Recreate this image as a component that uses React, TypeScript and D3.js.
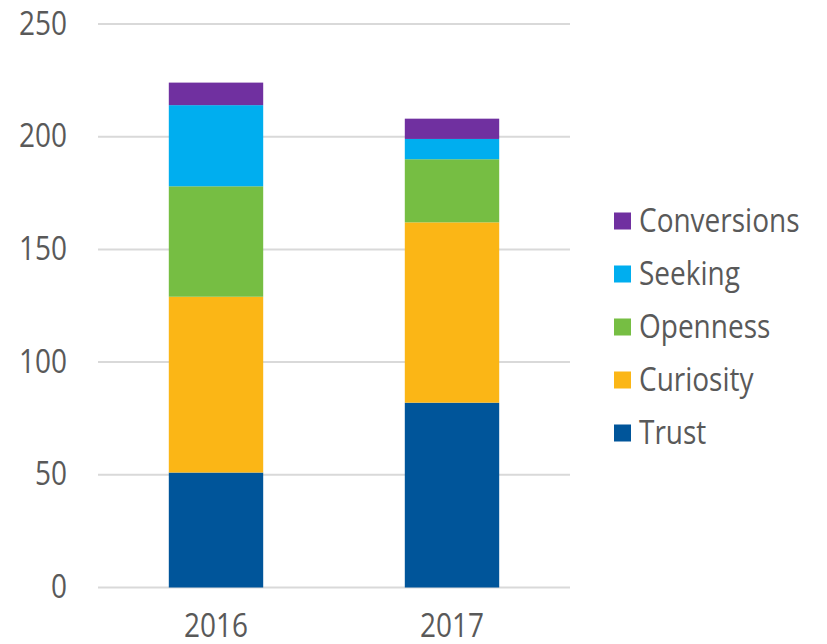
import React from "react";
import * as d3 from "d3";

const categories = ["2016", "2017"];
const seriesNames = ["Trust", "Curiosity", "Openness", "Seeking", "Conversions"];
const trust = [51, 82];
const curiosity = [78, 80];
const openness = [49, 28];
const seeking = [36, 9];
const conversions = [10, 9];
const colors = ["#00559A", "#FBB616", "#76BE43", "#00AEEF", "#7030A0"];
const yTicks = [0, 50, 100, 150, 200, 250];

const W = 827;
const H = 644;
const FONT = "'Open Sans', sans-serif";
const TEXT = "#595959";
const FS = 28;
const SY = 1.15;

function T({ x, y, anchor = "start", children }: any) {
  return (
    <text
      transform={`translate(${x},${y}) scale(1,${SY})`}
      textAnchor={anchor}
      fontFamily={FONT}
      fontSize={FS}
      fill={TEXT}
    >
      {children}
    </text>
  );
}

export default function App() {
  const values = [trust, curiosity, openness, seeking, conversions];
  const rows = categories.map((c, i) => {
    const r: any = { cat: c };
    seriesNames.forEach((s, k) => (r[s] = values[k][i]));
    return r;
  });
  const stacked = d3.stack().keys(seriesNames)(rows);
  const x = d3.scaleBand().domain(categories).range([98, 570]).paddingInner(0.6).paddingOuter(0.3);
  const y = d3.scaleLinear().domain([0, 250]).range([587.5, 24]);

  return (
    <svg width={W} height={H} style={{ position: "absolute", left: 0, top: 0, background: "#fff" }}>
      {yTicks.map((t) => (
        <g key={t}>
          <line x1={98} x2={570} y1={y(t)} y2={y(t)} stroke="#D9D9D9" strokeWidth={2} />
          <T x={67} y={y(t) + 10.5} anchor="end">
            {t}
          </T>
        </g>
      ))}
      {stacked.map((layer, k) => (
        <g key={layer.key} fill={colors[k]}>
          {layer.map((d: any, i: number) => (
            <rect
              key={i}
              x={x(categories[i])}
              width={x.bandwidth()}
              y={y(d[1])}
              height={y(d[0]) - y(d[1])}
            />
          ))}
        </g>
      ))}
      {categories.map((c) => (
        <T key={c} x={(x(c) as number) + x.bandwidth() / 2} y={636.5} anchor="middle">
          {c}
        </T>
      ))}
      {seriesNames
        .slice()
        .reverse()
        .map((s, i) => {
          const k = seriesNames.length - 1 - i;
          const cy = 221 + i * 53;
          return (
            <g key={s}>
              <rect x={614} y={cy - 8.5} width={17} height={17} fill={colors[k]} />
              <T x={639} y={cy + 11}>
                {s}
              </T>
            </g>
          );
        })}
    </svg>
  );
}
